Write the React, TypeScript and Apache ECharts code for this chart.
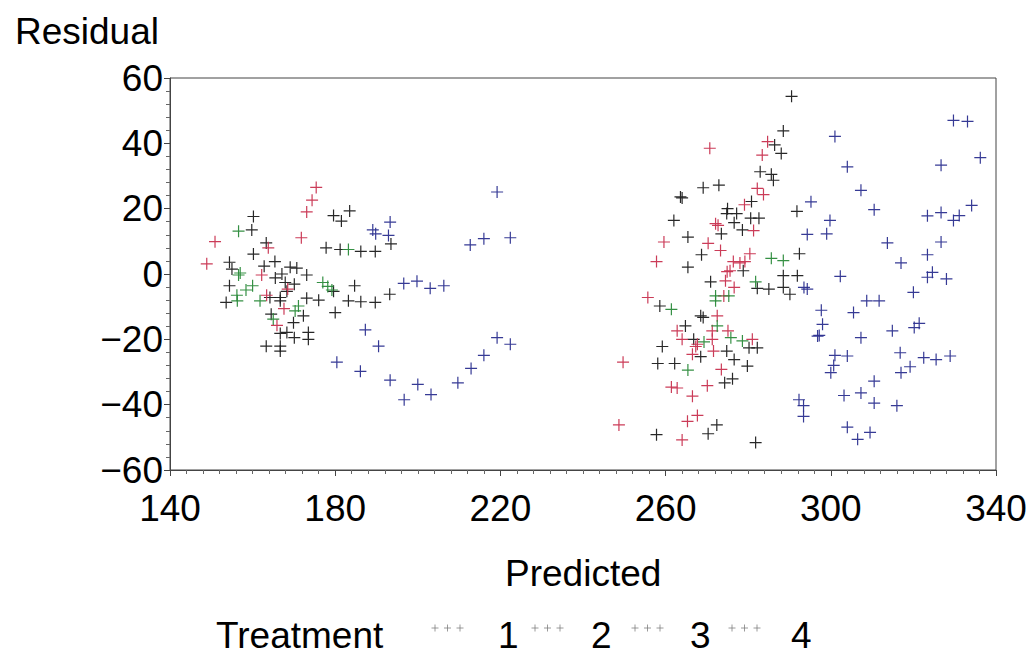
import React, { useEffect, useRef } from "react";
import * as echarts from "echarts";

// ---------- data (Predicted, Residual) per Treatment ----------
const treatments = ["1", "2", "3", "4"];

const t1Pred = [160.2,179.6,183.5,181.5,159.8,163.3,160.2,177.8,181.2,186.2,189.7,154.4,165.4,162.8,169.1,170.7,155.0,173.1,165.5,167.1,154.4,167.9,170.1,168.3,179.6,184.7,153.6,164.2,166.7,166.7,173.1,176.0,183.2,186.2,189.7,172.3,164.5,180.0,169.9,166.7,168.3,170.1,173.5,173.5,163.3,166.7,166.7,193.5,193.2,
  290.5,288.5,286.4,288.0,282.9,285.6,286.1,272.9,269.1,264.0,263.6,280.8,275.0,274.8,277.2,280.6,282.6,276.6,278.6,273.5,262.0,291.8,265.4,268.7,265.4,292.4,278.8,288.5,291.9,270.9,282.2,285.0,288.5,290.1,258.6,268.5,269.1,264.8,266.8,280.2,282.2,259.2,274.8,268.5,276.6,279.8,258.1,262.2,274.3,276.2,272.4,270.3,257.8,281.8];
const t1Resid = [17.6,17.9,19.3,16.2,13.5,9.5,6.1,8.0,7.5,6.9,6.9,3.6,3.8,2.4,2.1,1.8,1.5,-0.3,-1.2,0,-3.6,-2.6,-3.1,-5.3,-5.3,-3.6,-8.7,-7.2,-7.2,-8.2,-7.4,-8.0,-8.2,-8.5,-8.7,-12.8,-12.3,-11.8,-14.9,-18.2,-17.9,-19.5,-17.9,-20.0,-22.1,-22.1,-23.6,9.2,-6.2,
  54.4,43.8,39.5,36.9,31.3,30.5,28.7,27.2,26.4,23.3,23.6,22.2,20.0,18.5,18.5,17.1,17.1,15.7,13.5,12.3,16.4,19.2,11.3,5.9,2.1,6.2,1.0,-0.5,-0.5,-2.4,-4.4,-4.6,-4.1,-6.2,-9.8,-12.8,-13.3,-15.9,-20.0,-22.6,-22.6,-22.2,-23.6,-25.3,-26.2,-28.2,-27.4,-27.4,-33.3,-32.1,-46.2,-48.9,-49.2,-51.6];

const t2Pred = [175.4,174.4,173.1,150.9,171.8,163.8,148.9,162.2,163.4,167.6,165.9,168.5,
  284.7,283.4,270.7,282.2,283.7,279.1,281.3,272.1,272.7,259.6,270.3,273.3,257.8,280.4,276.4,278.0,279.2,274.9,275.6,274.5,276.6,274.1,255.7,272.5,262.8,275.1,264.0,271.3,271.3,281.0,267.3,267.7,271.6,266.5,249.7,273.5,270.1,261.4,262.8,266.5,267.7,265.3,248.7,264.0];
const t2Resid = [26.5,22.6,19.0,9.9,11.1,8.0,3.1,-0.3,-6.5,-10.6,-15.7,-4.6,
  40.5,36.4,38.5,26.2,24.3,21.2,13.3,15.4,14.9,9.8,9.4,7.2,3.8,6.2,3.8,3.4,3.8,0.7,1.0,-2.1,-4.1,-6.7,-7.2,-12.8,-17.4,-17.4,-20.0,-17.4,-20.0,-20.0,-22.2,-21.5,-23.6,-24.6,-27.0,-29.2,-34.2,-34.6,-34.9,-37.4,-43.3,-45.1,-46.2,-50.8];

const t3Pred = [156.6,156.6,157.0,183.2,160.0,158.4,177.0,178.2,179.2,156.2,156.3,161.8,171.1,170.3,165.0,
  285.6,288.5,281.8,272.1,272.1,275.3,261.4,272.5,275.8,278.6,269.3,265.4];
const t3Resid = [13.1,-0.3,0.3,7.5,-3.6,-4.9,-2.6,-3.8,-4.9,-6.5,-8.2,-8.2,-9.8,-11.3,-13.8,
  4.8,4.1,-2.4,-6.7,-8.2,-6.7,-10.8,-15.9,-19.5,-20.5,-20.8,-29.4];

const t4Pred = [189.1,189.8,193.3,192.9,187.3,190.5,186.1,180.4,219.2,212.7,216.0,222.4,196.6,199.8,203.0,206.3,193.3,196.7,200.0,203.2,209.7,212.9,216.0,219.2,222.4,
  295.2,294.3,292.3,301.0,304.0,307.3,310.5,299.8,299.0,313.7,317.0,329.7,333.1,336.2,326.7,334.1,323.4,326.7,329.7,331.1,326.7,323.4,302.3,324.6,323.4,328.0,293.5,294.3,320.0,308.7,311.7,305.5,297.7,298.0,297.2,296.8,307.3,314.9,320.2,321.4,301.0,304.0,300.7,300.0,316.8,317.0,319.2,322.5,325.5,328.9,310.5,303.2,307.3,310.5,316.0,293.4,293.4,304.0,306.5,309.5];
const t4Resid = [13.5,12.3,15.9,11.8,-17.1,-22.1,-29.8,-27.0,25.1,8.9,10.8,11.1,-2.9,-2.2,-4.4,-3.6,-32.5,-38.5,-33.8,-36.9,-33.3,-28.9,-24.9,-19.5,-21.5,
  22.1,12.1,-38.5,42.1,32.8,25.6,19.7,16.4,12.3,9.5,3.4,47.0,46.7,35.6,33.3,21.0,17.8,18.8,16.4,17.9,9.8,5.9,-0.7,0.5,-1.0,-1.5,-4.1,-4.6,-5.6,-8.2,-8.2,-11.8,-11.1,-15.4,-18.8,-19.0,-19.5,-17.4,-16.4,-15.1,-24.9,-25.1,-28.0,-30.2,-24.1,-30.2,-28.4,-25.6,-26.2,-25.1,-32.8,-37.2,-36.4,-39.5,-40.3,-40.3,-43.6,-46.9,-50.6,-48.5];

const xTicks = [140, 180, 220, 260, 300, 340];
const yTicks = [-60, -40, -20, 0, 20, 40, 60];

// ---------- styling ----------
const COLORS = ["#1c1c1c", "#c8324f", "#2a8a3a", "#2b2f8f"];
const FONT = "'Liberation Sans', Arial, Helvetica, sans-serif";
const PLUS =
  "path://M4.5,0 L5.5,0 L5.5,4.5 L10,4.5 L10,5.5 L5.5,5.5 L5.5,10 L4.5,10 L4.5,5.5 L0,5.5 L0,4.5 L4.5,4.5 Z";

const seriesData = [
  [t1Pred, t1Resid],
  [t2Pred, t2Resid],
  [t3Pred, t3Resid],
  [t4Pred, t4Resid],
];

function plusShape(cx: number, cy: number, color: string) {
  const h = 3.5;
  return [
    { type: "line", shape: { x1: cx - h, y1: cy, x2: cx + h, y2: cy }, style: { stroke: color, lineWidth: 1 } },
    { type: "line", shape: { x1: cx, y1: cy - h, x2: cx, y2: cy + h }, style: { stroke: color, lineWidth: 1 } },
  ];
}

export default function App() {
  const ref = useRef<HTMLDivElement>(null);

  useEffect(() => {
    if (!ref.current) return;
    const chart = echarts.init(ref.current, undefined, { renderer: "svg" });

    const legendMarkerStarts = [435, 535, 635, 732];
    const legendLabelX = [498, 591, 690, 791];
    const legendGraphics: any[] = [
      {
        type: "text",
        left: 216,
        top: 617,
        style: { text: "Treatment", font: `37px ${FONT}`, fill: "#000" },
      },
    ];
    treatments.forEach((t, i) => {
      for (let k = 0; k < 3; k++) {
        legendGraphics.push(
          ...plusShape(legendMarkerStarts[i] + k * 12.5, 628, "rgba(120,120,120,0.75)")
        );
      }
      legendGraphics.push({
        type: "text",
        left: legendLabelX[i],
        top: 617,
        style: { text: t, font: `37px ${FONT}`, fill: "#000" },
      });
    });

    chart.setOption({
      animation: false,
      backgroundColor: "#ffffff",
      grid: {
        left: 170,
        top: 78,
        width: 826,
        height: 392,
        show: true,
        borderColor: "#444",
        borderWidth: 1,
        backgroundColor: "transparent",
      },
      xAxis: {
        type: "value",
        min: xTicks[0],
        max: xTicks[xTicks.length - 1],
        interval: 40,
        axisLine: { show: true, onZero: false, lineStyle: { color: "#444", width: 1 } },
        axisTick: { show: true, length: 6, inside: false, lineStyle: { color: "#444" } },
        minorTick: { show: true, splitNumber: 10, length: 4, lineStyle: { color: "#666" } },
        splitLine: { show: false },
        axisLabel: {
          fontSize: 37,
          fontFamily: FONT,
          color: "#000",
          margin: 20,
        },
      },
      yAxis: {
        type: "value",
        min: yTicks[0],
        max: yTicks[yTicks.length - 1],
        interval: 20,
        axisLine: { show: true, onZero: false, lineStyle: { color: "#444", width: 1 } },
        axisTick: { show: true, length: 6, inside: false, lineStyle: { color: "#444" } },
        minorTick: { show: true, splitNumber: 5, length: 4, lineStyle: { color: "#666" } },
        splitLine: { show: false },
        axisLabel: {
          fontSize: 37,
          fontFamily: FONT,
          color: "#000",
          margin: 7,
          formatter: (v: number) => (v < 0 ? "\u2212" + Math.abs(v) : String(v)),
        },
      },
      graphic: [
        {
          type: "text",
          left: 15,
          top: 13,
          style: { text: "Residual", font: `37px ${FONT}`, fill: "#000" },
        },
        {
          type: "text",
          left: 505,
          top: 555,
          style: { text: "Predicted", font: `37px ${FONT}`, fill: "#000" },
        },
        ...legendGraphics,
      ],
      series: seriesData.map(([xs, ys], i) => ({
        name: treatments[i],
        type: "scatter",
        symbol: PLUS,
        symbolSize: 12,
        itemStyle: { color: COLORS[i], opacity: 0.95 },
        data: xs.map((x, j) => [x, ys[j]]),
      })),
    });

    return () => chart.dispose();
  }, []);

  return (
    <div
      ref={ref}
      style={{ position: "fixed", left: 0, top: 0, width: 1034, height: 660, background: "#fff" }}
    />
  );
}
